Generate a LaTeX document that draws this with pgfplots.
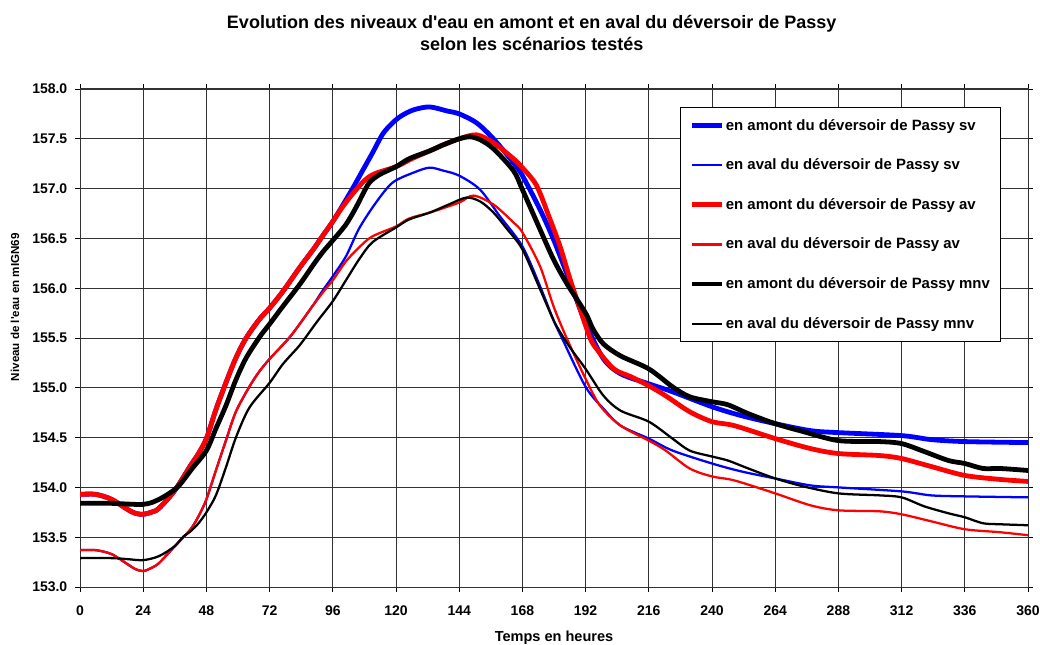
\documentclass[border=0pt]{standalone}
\usepackage{fontspec}
\setmainfont{Liberation Sans}
\usepackage{pgfplots}
\pgfplotsset{compat=1.18}

\definecolor{xlblue}{RGB}{0,0,255}
\definecolor{xlred}{RGB}{255,0,0}

\begin{document}
\begin{tikzpicture}
\begin{axis}[
  scale only axis,
  width=711pt, height=373.5pt,
  xmin=0, xmax=360, ymin=153, ymax=158,
  xtick={0,24,...,360},
  ytick={153,153.5,...,158},
  grid=major,
  grid style={black!80, line width=0.6pt},
  axis line style={black!80, line width=0.75pt},
  tick align=outside,
  major tick length=3.5pt,
  tick style={black, line width=0.6pt},
  xticklabel shift=7pt,
  yticklabel shift=2.5pt,
  tick label style={font=\fontsize{10.5}{12}\selectfont\bfseries},
  /pgf/number format/assume math mode=true,
  yticklabel style={/pgf/number format/.cd, fixed, fixed zerofill, precision=1},
  xlabel={Temps en heures},
  ylabel={Niveau de l\textquotesingle{}eau en mIGN69},
  xlabel style={at={(axis description cs:0.5,0)}, anchor=base, yshift=-41pt,
    font=\fontsize{10.9}{12}\selectfont\bfseries},
  ylabel style={at={(axis description cs:-0.0643,0.562)}, anchor=base,
    font=\fontsize{8.7}{10}\selectfont\bfseries},
  legend cell align=left,
  legend style={
    at={(0.9715,0.9633)}, anchor=north east,
    draw=black, line width=0.75pt, fill=white,
    font=\fontsize{11.2}{13}\selectfont\bfseries,
    inner xsep=7pt, inner ysep=8.5pt,
    row sep=20pt, column sep=0pt,
    nodes={inner xsep=1pt, inner ysep=0pt},
  },
  legend image code/.code={\draw[#1] (0pt,0pt) -- (22.5pt,0pt);},
  every axis plot/.append style={smooth, tension=0.5},
]

% amont sv
\addplot[xlblue, line width=3.6pt] coordinates {
(0,153.93) (6,153.93) (12,153.88) (18,153.78) (21,153.74) (24,153.73) (27,153.75)
(30,153.79) (36,153.97) (42,154.22) (45,154.34) (48,154.49) (51.6,154.78) (55.4,155.05)
(59.2,155.30) (63.1,155.50) (68.2,155.69) (72,155.80) (77.1,155.97) (83.5,156.21)
(88.6,156.39) (92,156.52) (96,156.67) (99.7,156.83) (103.5,157.0) (107.3,157.18)
(111.1,157.36) (115,157.55) (118.7,157.66) (122,157.73) (126.6,157.79) (132.7,157.82)
(139.3,157.78) (144,157.75) (150.6,157.66) (157,157.50) (164.6,157.26) (168,157.13)
(174.7,156.79) (179.8,156.49) (184.8,156.15) (189.9,155.79) (192.4,155.62) (198.8,155.29)
(205.3,155.14) (216,155.04) (225,154.96) (240,154.81) (251.2,154.72) (264,154.64)
(277.4,154.57) (288,154.55) (312,154.52) (323.2,154.48) (336,154.46) (360,154.45)
};
\addlegendentry{en amont du déversoir de Passy sv}

% aval sv
\addplot[xlblue, line width=1.7pt] coordinates {
(0,153.37) (6,153.37) (12,153.33) (18,153.23) (21,153.18) (24,153.16) (27,153.19)
(30,153.24) (36,153.41) (42,153.58) (45.2,153.72) (48,153.88) (51.6,154.17) (55.4,154.47)
(59.2,154.76) (64.3,155.01) (68,155.16) (72,155.29) (80,155.52) (88,155.81)
(92,155.97) (96,156.12) (101,156.32) (106,156.60) (112.4,156.86) (118.7,157.06)
(126.6,157.16) (132.7,157.21) (138,157.18) (144,157.13) (151.9,156.99) (159.5,156.72)
(168,156.42) (174.7,156.02) (179.8,155.68) (183,155.5) (192,155.01) (198.8,154.79)
(205.3,154.62) (216,154.49) (225,154.37) (240,154.24) (251.2,154.16) (264,154.09)
(277.4,154.02) (288,154.0) (312,153.96) (323.2,153.92) (336,153.91) (360,153.9)
};
\addlegendentry{en aval du déversoir de Passy sv}

% amont av
\addplot[xlred, line width=3.6pt] coordinates {
(0,153.93) (6,153.93) (12,153.88) (18,153.78) (21,153.74) (24,153.73) (27,153.75)
(30,153.79) (36,153.97) (42,154.22) (45,154.34) (48,154.49) (51.6,154.78) (55.4,155.05)
(59.2,155.30) (63.1,155.50) (68.2,155.69) (72,155.80) (77.1,155.97) (83.5,156.21)
(88.6,156.39) (92,156.52) (96,156.67) (99,156.79) (103,156.93) (108,157.08)
(112,157.15) (120,157.22) (126,157.30) (132.9,157.38) (138,157.44) (144,157.50)
(150.6,157.54) (157,157.46) (164.6,157.30) (168,157.21) (173.4,157.03) (178.5,156.69)
(182.3,156.42) (186.1,156.09) (189.9,155.79) (193.7,155.50) (196.2,155.39) (202.7,155.19)
(209.3,155.11) (216,155.02) (222.4,154.92) (231.5,154.76) (240,154.66) (248.5,154.62)
(264,154.49) (277.4,154.39) (288,154.34) (303.6,154.32) (312,154.29) (323.2,154.21)
(336,154.12) (349.4,154.08) (360,154.06)
};
\addlegendentry{en amont du déversoir de Passy av}

% aval av
\addplot[xlred, line width=1.7pt] coordinates {
(0,153.37) (6,153.37) (12,153.33) (18,153.23) (21,153.18) (24,153.16) (27,153.19)
(30,153.24) (36,153.41) (42,153.58) (45.2,153.72) (48,153.88) (51.6,154.17) (55.4,154.47)
(59.2,154.76) (64.3,155.01) (68,155.16) (72,155.29) (80,155.52) (88,155.81)
(92,155.95) (96,156.08) (101,156.27) (106,156.41) (111,156.52) (120,156.62)
(125,156.70) (132.9,156.76) (144,156.86) (149.4,156.93) (157,156.84) (164.6,156.66)
(168,156.56) (174.7,156.22) (179.8,155.82) (184.8,155.5) (192,155.09) (197.5,154.82)
(205.3,154.62) (216,154.47) (222.4,154.37) (231.5,154.19) (240,154.11) (248.5,154.07)
(264,153.94) (277.4,153.82) (288,153.77) (303.6,153.76) (312,153.73) (323.2,153.66)
(336,153.58) (349.4,153.55) (360,153.52)
};
\addlegendentry{en aval du déversoir de Passy av}

% amont mnv
\addplot[black, line width=3.6pt] coordinates {
(0,153.84) (12,153.84) (24,153.83) (30,153.88) (36.9,154.0) (42.6,154.19) (48,154.37)
(51.6,154.59) (55.4,154.82) (59.2,155.08) (63.1,155.30) (68.2,155.51) (72,155.64)
(77.1,155.82) (83.5,156.04) (89,156.25) (92.4,156.37) (96,156.48) (101,156.64)
(104.8,156.81) (107.3,156.94) (109.9,157.06) (113.7,157.14) (120,157.22) (125,157.30)
(132.9,157.38) (138,157.44) (144,157.50) (148.1,157.52) (152,157.49) (157,157.40)
(164.6,157.18) (168,156.99) (174.7,156.59) (179.8,156.29) (184.8,156.05) (192,155.75)
(194.8,155.59) (198.8,155.44) (205.3,155.32) (216,155.19) (225,155.01) (231.5,154.91)
(240,154.86) (246,154.83) (253.8,154.74) (264,154.64) (274.7,154.56) (288,154.47)
(303.6,154.46) (312,154.44) (320.6,154.36) (329.8,154.27) (336,154.24) (342.9,154.19)
(349.4,154.19) (360,154.17)
};
\addlegendentry{en amont du déversoir de Passy mnv}

% aval mnv
\addplot[black, line width=1.7pt] coordinates {
(0,153.29) (12,153.29) (18,153.28) (24,153.27) (30,153.31) (36,153.41) (39,153.5)
(42,153.56) (45,153.64) (48,153.75) (51.6,153.92) (55.4,154.20) (59.2,154.50)
(64.3,154.80) (72,155.05) (77.1,155.24) (83.5,155.43) (89.9,155.66) (96,155.87)
(101,156.08) (106,156.29) (111,156.46) (120,156.61) (125,156.69) (132.9,156.76)
(140,156.84) (146.8,156.91) (152,156.87) (157,156.76) (162,156.60) (168,156.39)
(174.7,155.99) (179.8,155.68) (183,155.53) (187,155.37) (192,155.19) (198.8,154.92)
(205.3,154.77) (216,154.66) (225,154.49) (231.5,154.37) (240,154.31) (246,154.27)
(253.8,154.19) (264,154.09) (274.7,154.01) (288,153.94) (303.6,153.92) (312,153.90)
(320.6,153.81) (329.8,153.74) (336,153.70) (342.9,153.64) (349.4,153.63) (360,153.62)
};
\addlegendentry{en aval du déversoir de Passy mnv}

\end{axis}

\node[anchor=base, font=\fontsize{13.5}{16}\selectfont\bfseries]
  at ([xshift=-16.7pt, yshift=45.4pt]current axis.north)
  {Evolution des niveaux d\textquotesingle{}eau en amont et en aval du déversoir de Passy};
\node[anchor=base, font=\fontsize{13.5}{16}\selectfont\bfseries]
  at ([xshift=-16.7pt, yshift=28.5pt]current axis.north)
  {selon les scénarios testés};

\pgfresetboundingbox
\path ([xshift=-60pt,yshift=-42.75pt]current axis.south west)
  rectangle ([xshift=9pt,yshift=66.75pt]current axis.north east);
\end{tikzpicture}
\end{document}
